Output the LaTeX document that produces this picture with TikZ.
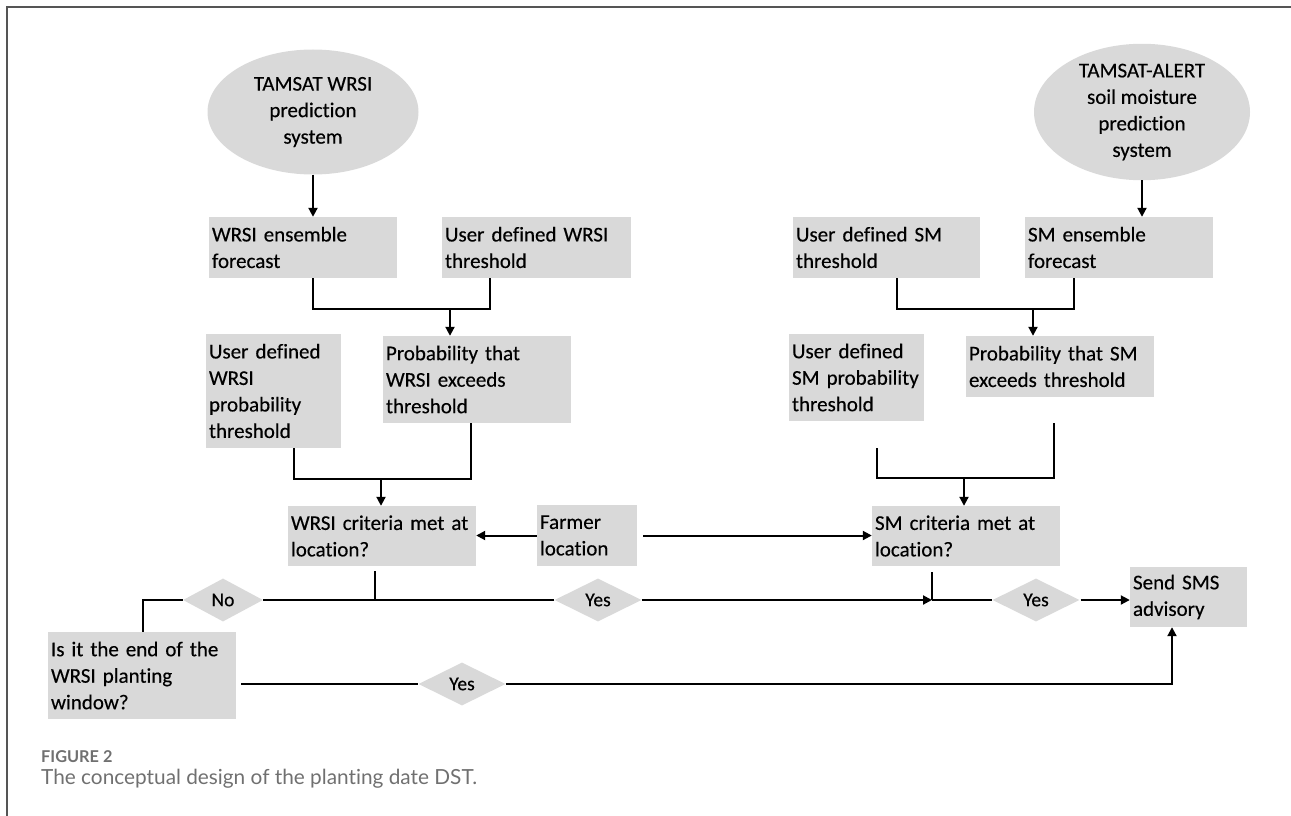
\documentclass[tikz,border=0pt]{standalone}
\usepackage{fontspec}
\setmainfont{Carlito}[Ligatures=NoCommon,FakeBold=0.3]
\newfontfamily\capfont{Lato}[Ligatures=NoCommon]
\usetikzlibrary{shapes.geometric,arrows.meta,calc}
\definecolor{boxgray}{HTML}{D9D9D9}
\definecolor{framegray}{HTML}{555555}
\definecolor{capgray}{HTML}{707070}
\newcommand\gbox[6]{%
  \pgfmathsetmacro\bw{#4-#2}\pgfmathsetmacro\bh{#5-#3}\pgfmathsetmacro\tw{#4-#2-6}%
  \node[gbox, minimum width=\bw pt, minimum height=\bh pt, text width=\tw pt] (#1) at ({(#2+#4)/2},{(#3+#5)/2}) {#6};}
\begin{document}
\begin{tikzpicture}[x=1pt,y=-1pt,
  gbox/.style={rectangle, fill=boxgray, inner xsep=3pt, inner ysep=0pt, align=left, font=\fontsize{21}{26.5}\selectfont},
  ell/.style={ellipse, fill=boxgray, inner sep=0pt, align=center, font=\fontsize{21}{26.5}\selectfont},
  dia/.style={diamond, fill=boxgray, inner sep=0pt, font=\fontsize{19.5}{22}\selectfont},
  ln/.style={line width=2pt, black},
  arr/.style={ln, -{Triangle[length=9pt,width=9pt]}},
]
\useasboundingbox (0,0) rectangle (1291,816);
\draw[framegray, line width=1.5pt] (7,816) -- (7,7) -- (1291,7);

% ellipses
\node[ell, minimum width=211pt, minimum height=125pt] (e1) at (313,112) {TAMSAT WRSI\\prediction\\system};
\node[ell, minimum width=216pt, minimum height=126pt] (e2) at (1142,112) {TAMSAT-ALERT\\soil moisture\\prediction\\system};

% boxes
\gbox{b1}{209}{217}{397}{278}{WRSI ensemble\\forecast}
\gbox{b2}{442}{217}{631}{278}{User defined WRSI\\threshold}
\gbox{b3}{206}{334}{341}{448}{User defined\\WRSI\\probability\\threshold}
\gbox{b4}{383}{336}{571}{423}{Probability that\\WRSI exceeds\\threshold}
\gbox{b5}{793}{217}{980}{278}{User defined SM\\threshold}
\gbox{b6}{1025}{217}{1213}{278}{SM ensemble\\forecast}
\gbox{b7}{789}{334}{924}{421}{User defined\\SM probability\\threshold}
\gbox{b8}{966}{336}{1154}{397}{Probability that SM\\exceeds threshold}
\gbox{b9}{288}{506}{476}{566}{WRSI criteria met at\\location?}
\gbox{b10}{537}{505}{637}{566}{Farmer\\location}
\gbox{b11}{872}{506}{1060}{566}{SM criteria met at\\location?}
\gbox{b12}{1130}{567}{1247}{627}{Send SMS\\advisory}
\gbox{b13}{48}{632}{236}{719}{Is it the end of the\\WRSI planting\\window?}

% diamonds
\node[dia, minimum width=80pt, minimum height=43pt] (d1) at (223,600) {No};
\node[dia, minimum width=87pt, minimum height=43pt] (d2) at (598,600) {Yes};
\node[dia, minimum width=87pt, minimum height=43pt] (d3) at (1036,600) {Yes};
\node[dia, minimum width=87pt, minimum height=43pt] (d4) at (462,684) {Yes};

% junction coordinates
\coordinate (t1) at (313,309);
\coordinate (t2) at (490,309);
\coordinate (t3) at (450,309);
\coordinate (u1) at (897,309);
\coordinate (u2) at (1074,309);
\coordinate (u3) at (1033,309);
\coordinate (v1) at (294,479);
\coordinate (v2) at (471,479);
\coordinate (v3) at (381,479);
\coordinate (r1) at (877,478);
\coordinate (r2) at (1054,478);
\coordinate (r3) at (964,478);
\coordinate (w1) at (375,600);
\coordinate (n1) at (143,600);
\coordinate (jy) at (932,600);
\coordinate (s1) at (1172,684);

% top arrows
\draw[arr] (e1.south) -- (e1.south |- b1.north);
\draw[arr] (e2.south) -- (e2.south |- b6.north);

% WRSI upper bracket
\draw[ln] (t1 |- b1.south) -- (t1) -- (t2) -- (t2 |- b2.south);
\draw[arr] (t3) -- (t3 |- b4.north);
% SM upper bracket
\draw[ln] (u1 |- b5.south) -- (u1) -- (u2) -- (u2 |- b6.south);
\draw[arr] (u3) -- (u3 |- b8.north);
% WRSI lower bracket
\draw[ln] (v1 |- b3.south) -- (v1) -- (v2) -- (v2 |- b4.south);
\draw[arr] (v3) -- (v3 |- b9.north);
% SM lower bracket (free ends)
\draw[ln] ($(r1 |- b7.south)+(0,27)$) -- (r1) -- (r2) -- ($(r2 |- b8.south)+(0,26)$);
\draw[arr] (r3) -- (r3 |- b11.north);

% farmer location
\draw[arr] (b10.west) -- (b10.west -| b9.east);
\draw[arr, shorten <=6pt] (b10.east) -- (b10.east -| b11.west);

% decision lines
\draw[ln] ($(w1 |- b9.south)+(0,5)$) -- (w1);
\draw[ln] (d2.west) -- (d1.east);
\draw[ln] (d1.west) -- (n1) -- (n1 |- b13.north);
\draw[ln] ($(jy |- b11.south)+(0,6)$) -- (jy);
\draw[arr] (d2.east) -- (jy);
\draw[ln] (jy) -- (d3.west);
\draw[arr, shorten <=1pt] (d3.east) -- (d3.east -| b12.west);
\draw[ln, shorten <=5pt] (b13.east |- d4.west) -- (d4.west);
\draw[arr] (d4.east) -- (s1) -- (s1 |- b12.south);

% caption
\node[anchor=base west, inner sep=0pt, text=capgray, font=\capfont\bfseries\fontsize{16.3}{19}\selectfont] (fig) at (41,762) {FIGURE 2};
\node[anchor=base west, inner sep=0pt, text=capgray, font=\capfont\fontsize{20.8}{24}\selectfont] (cap) at (41,784) {The conceptual design of the planting date DST.};
\end{tikzpicture}
\end{document}
